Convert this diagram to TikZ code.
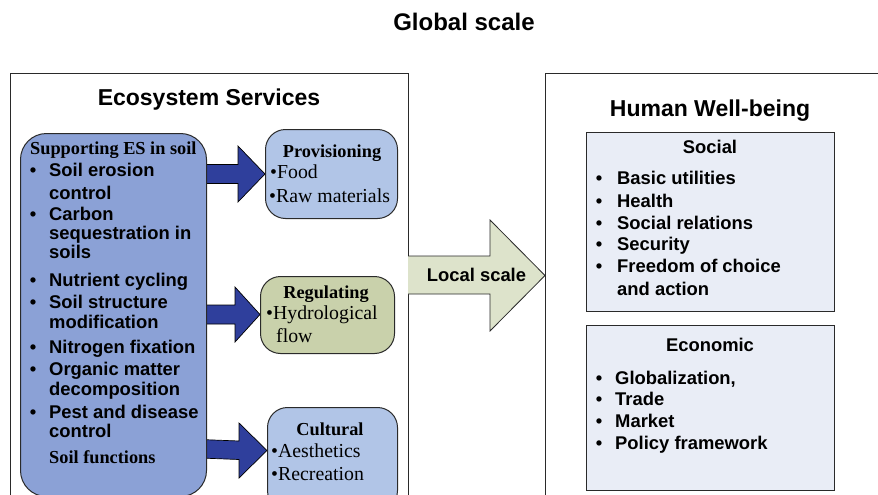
\documentclass[tikz,border=0pt]{standalone}
\usepackage{fontspec}
\setmainfont{Liberation Serif}
\newfontfamily\arialf{Liberation Sans}
\definecolor{supblue}{HTML}{8BA1D6}
\definecolor{provblue}{HTML}{B1C5E7}
\definecolor{reggreen}{HTML}{C9D1AB}
\definecolor{darkarrow}{HTML}{2F3F9C}
\definecolor{localfill}{HTML}{DDE3CB}
\definecolor{hwfill}{HTML}{E9EDF6}
\definecolor{edge}{HTML}{2A2A2A}
\tikzset{
  frame/.style={draw=edge, line width=0.9pt, inner sep=0pt, anchor=north west},
  rbox/.style={draw=edge, line width=1pt, inner sep=0pt, anchor=north west, rounded corners=20pt},
  sqbox/.style={draw=edge, line width=1pt, inner sep=0pt, anchor=north west},
  sansb/.style={font=\arialf\bfseries\fontsize{18.4}{20}\selectfont, inner sep=0pt},
  sanstitle/.style={font=\arialf\bfseries\fontsize{23}{26}\selectfont, inner sep=0pt, anchor=base},
  serifb/.style={font=\bfseries\fontsize{18.3}{20}\selectfont, inner sep=0pt},
  serifr/.style={font=\fontsize{19.8}{21}\selectfont, inner sep=0pt, anchor=base west},
  blockarrow/.style={fill=darkarrow, draw=black, line width=0.7pt},
}
% name, bullet x, text x, centre y, text
\newcommand\bitem[5]{%
  \node[sansb, anchor=base] (#1b) at (#2,#4+6.6) {•};
  \node[sansb, anchor=base west] (#1) at (#3,#4+6.6) {#5};}
\newcommand\contline[4]{%
  \node[sansb, anchor=base west] (#1) at (#2,#3+6.6) {#4};}
\begin{document}
\begin{tikzpicture}[x=1pt,y=-1pt]
\useasboundingbox (0,0) rectangle (878,495);
\clip (0,0) rectangle (878,495);
\fill[white] (0,0) rectangle (878,495);

% title
\node[font=\arialf\bfseries\fontsize{24}{26}\selectfont, inner sep=0pt, anchor=base] (global) at (464,30.6) {Global scale};

% outer frames
\node[frame, minimum width=398pt, minimum height=437pt] (es) at (10,73) {};
\node[frame, minimum width=345pt, minimum height=437pt] (hw) at (545,73) {};
\node[sanstitle] (estitle) at (209,105.2) {Ecosystem Services};
\node[sanstitle] (hwtitle) at (710,116.2) {Human Well-being};

% local scale arrow
\fill[localfill] (408,256) -- (490,256) -- (490,220) -- (545,275.5) -- (490,331) -- (490,294) -- (408,294) -- cycle;
\draw[edge, line width=0.8pt] (408,256) -- (490,256) -- (490,220) -- (545,275.5) -- (490,331) -- (490,294) -- (408,294);
\node[sansb, anchor=base] (local) at (476.5,281.6) {Local scale};

% dark block arrows
\draw[blockarrow] (200,164.5) -- (238,164.5) -- (238,146) -- (265,174) -- (238,202) -- (238,183.5) -- (200,183.5) -- cycle;
\draw[blockarrow] (200,305) -- (235,305) -- (235,287) -- (260,314.5) -- (235,342) -- (235,324) -- (200,324) -- cycle;
\draw[blockarrow] (200,439.5) -- (239,441) -- (239,423) -- (267,450.5) -- (239,478) -- (239,459.5) -- (200,458) -- cycle;

% supporting box
\node[rbox, fill=supblue, rounded corners=26pt, minimum width=186pt, minimum height=363pt] (sup) at (20,133) {};
\node[serifb, anchor=base west] (suptitle) at (30,154) {Supporting ES in soil};
\bitem{s1}{33}{49}{170}{Soil erosion}
\contline{s1c}{49}{193}{control}
\bitem{s2}{33}{49}{214}{Carbon}
\contline{s2c}{49}{233}{sequestration in}
\contline{s2d}{49}{252}{soils}
\bitem{s3}{33}{49}{280}{Nutrient cycling}
\bitem{s4}{33}{49}{302}{Soil structure}
\contline{s4c}{49}{322}{modification}
\bitem{s5}{33}{49}{347}{Nitrogen fixation}
\bitem{s6}{33}{49}{369}{Organic matter}
\contline{s6c}{49}{389}{decomposition}
\bitem{s7}{33}{49}{412}{Pest and disease}
\contline{s7c}{49}{431}{control}
\node[serifb, anchor=base west] (soilf) at (49,463) {Soil functions};

% service boxes
\node[rbox, fill=provblue, minimum width=132pt, minimum height=89pt] (prov) at (265,129) {};
\node[serifb, anchor=base] (provt) at (332,157) {Provisioning};
\node[serifr] (p1) at (270,178.3) {•Food};
\node[serifr] (p2) at (269,202.3) {•Raw materials};

\node[rbox, fill=reggreen, minimum width=134pt, minimum height=77pt] (reg) at (260,276) {};
\node[serifb, anchor=base] (regt) at (326,298) {Regulating};
\node[serifr] (r1) at (266,319.3) {•Hydrological};
\node[serifr] (r2) at (276,342.3) {flow};

\node[rbox, fill=provblue, minimum width=130pt, minimum height=103pt] (cult) at (267,407) {};
\node[serifb, anchor=base] (cultt) at (330,435) {Cultural};
\node[serifr] (c1) at (271,457.3) {•Aesthetics};
\node[serifr] (c2) at (271,480.3) {•Recreation};

% human well-being boxes
\node[sqbox, fill=hwfill, minimum width=248pt, minimum height=179pt] (social) at (586,132) {};
\node[sansb, anchor=base] (socialt) at (710,153.6) {Social};
\bitem{h1}{599}{617}{178}{Basic utilities}
\bitem{h2}{599}{617}{201}{Health}
\bitem{h3}{599}{617}{223}{Social relations}
\bitem{h4}{599}{617}{244}{Security}
\bitem{h5}{599}{617}{266}{Freedom of choice}
\contline{h5c}{617}{289}{and action}

\node[sqbox, fill=hwfill, minimum width=248pt, minimum height=165pt] (econ) at (586,325) {};
\node[sansb, anchor=base] (econt) at (710,351.6) {Economic};
\bitem{e1}{599}{615}{378}{Globalization,}
\bitem{e2}{599}{615}{399}{Trade}
\bitem{e3}{599}{615}{421}{Market}
\bitem{e4}{599}{615}{443}{Policy framework}
\end{tikzpicture}
\end{document}
